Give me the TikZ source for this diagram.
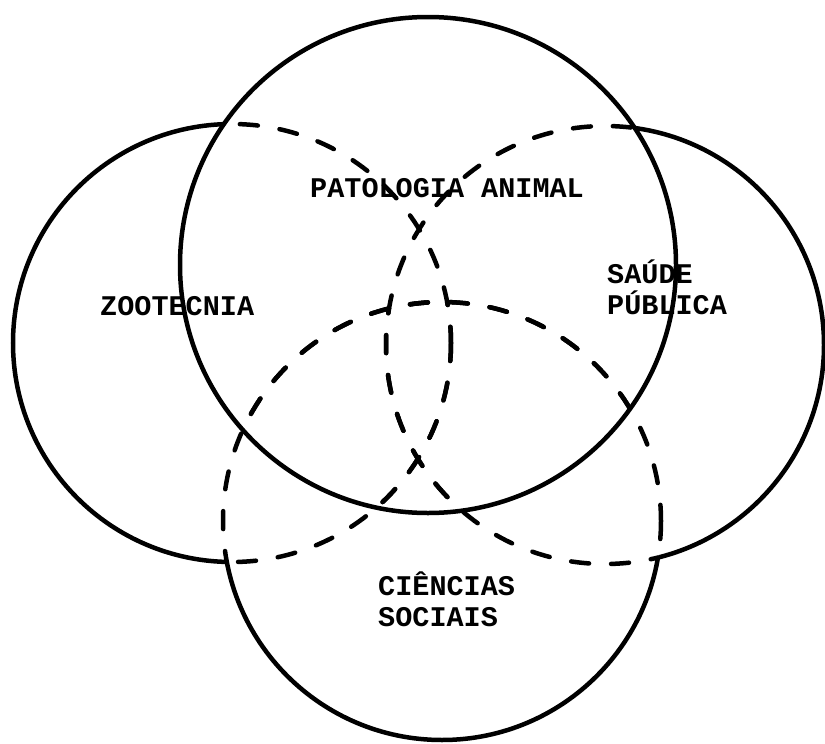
\documentclass[tikz,border=0pt]{standalone}
\usepackage{fontspec}
\setmonofont{Liberation Mono}
\begin{document}
\begin{tikzpicture}[x=1pt,y=-1pt,
  solidline/.style={line width=4.5pt},
  dashline/.style={line width=4.5pt, line cap=round, dash pattern=on 18pt off 22pt},
  lab/.style={font=\ttfamily\bfseries\fontsize{28.5}{31}\selectfont, inner sep=0pt, align=left}]
\useasboundingbox[fill=white] (0,0) rectangle (825,744);
\coordinate (T) at (428,265);
\coordinate (L) at (232,343);
\coordinate (R) at (605,345);
\coordinate (B) at (442,521);
\def\rT{248}
\def\rL{219}
\def\rR{219}
\def\rB{219}
% top circle: PATOLOGIA ANIMAL, fully solid
\draw[solidline] (T) circle[radius=\rT];
% left circle: solid outside top and bottom circles
\begin{scope}[even odd rule]
  \clip (-60,-60) rectangle (885,804) (T) circle[radius=\rT];
  \clip (-60,-60) rectangle (885,804) (B) circle[radius=\rB];
  \draw[solidline] (L) circle[radius=\rL];
\end{scope}
\begin{scope}
  \clip (T) circle[radius=\rT];
  \draw[dashline] (L) circle[radius=\rL];
\end{scope}
\begin{scope}
  \clip (B) circle[radius=\rB];
  \draw[dashline] (L) circle[radius=\rL];
\end{scope}
% right circle
\begin{scope}[even odd rule]
  \clip (-60,-60) rectangle (885,804) (T) circle[radius=\rT];
  \clip (-60,-60) rectangle (885,804) (B) circle[radius=\rB];
  \draw[solidline] (R) circle[radius=\rR];
\end{scope}
\begin{scope}
  \clip (T) circle[radius=\rT];
  \draw[dashline] (R) circle[radius=\rR];
\end{scope}
\begin{scope}
  \clip (B) circle[radius=\rB];
  \draw[dashline] (R) circle[radius=\rR];
\end{scope}
% bottom circle
\begin{scope}[even odd rule]
  \clip (-60,-60) rectangle (885,804) (T) circle[radius=\rT];
  \clip (-60,-60) rectangle (885,804) (L) circle[radius=\rL];
  \clip (-60,-60) rectangle (885,804) (R) circle[radius=\rR];
  \draw[solidline] (B) circle[radius=\rB];
\end{scope}
\begin{scope}
  \clip (T) circle[radius=\rT];
  \draw[dashline] (B) circle[radius=\rB];
\end{scope}
\begin{scope}
  \clip (L) circle[radius=\rL];
  \draw[dashline] (B) circle[radius=\rB];
\end{scope}
\begin{scope}
  \clip (R) circle[radius=\rR];
  \draw[dashline] (B) circle[radius=\rB];
\end{scope}
% labels
\node[lab, anchor=base west] (pat) at (310,197) {PATOLOGIA ANIMAL};
\node[lab, anchor=base west] (zoo) at (100,315) {ZOOTECNIA};
\node[lab, anchor=base west] (sau) at (607,314) {SAÚDE\\PÚBLICA};
\node[lab, anchor=base west] (cie) at (378,626) {CIÊNCIAS\\SOCIAIS};
\end{tikzpicture}
\end{document}
